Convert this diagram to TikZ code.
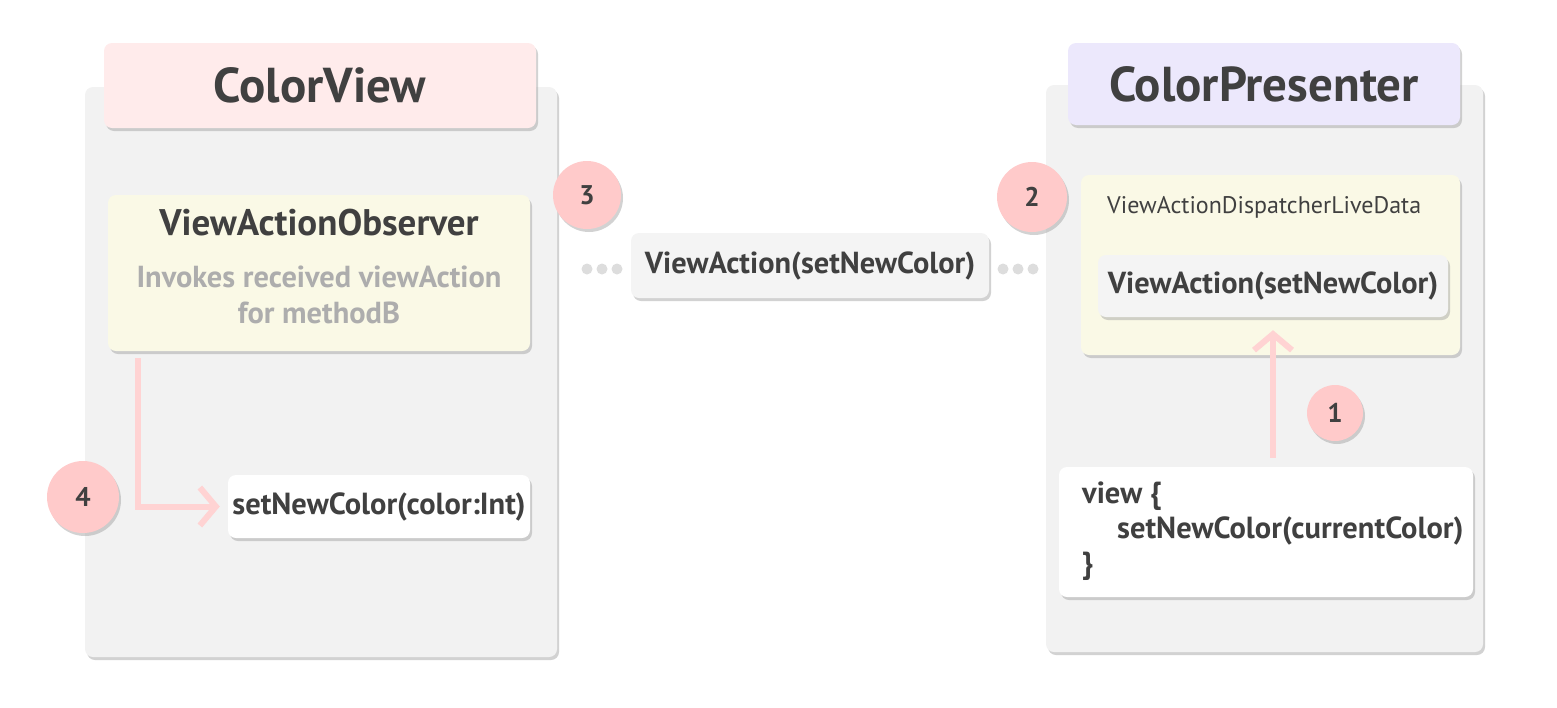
\documentclass[tikz,border=0pt]{standalone}
\usepackage{fontspec}
\setmainfont{PT Sans}
\usepackage{tikz}
\usetikzlibrary{arrows.meta,positioning,shadows}
\definecolor{inkx}{HTML}{404040}
\definecolor{mutedx}{HTML}{ADADAD}
\definecolor{panelbg}{HTML}{F2F2F2}
\definecolor{pinkbg}{HTML}{FFEBEB}
\definecolor{lilacbg}{HTML}{ECE8FC}
\definecolor{creambg}{HTML}{FAF9E6}
\definecolor{chipbg}{HTML}{F4F4F4}
\definecolor{badgex}{HTML}{FFCACA}
\definecolor{arrowx}{HTML}{FFD3D3}
\definecolor{dotx}{HTML}{DDDDDD}
\tikzset{
  shd/.style={drop shadow={shadow xshift=2pt,shadow yshift=-3pt,fill=black!35}},
  box/.style={rounded corners=8pt,inner sep=0pt,shd},
  panel/.style={box,fill=panelbg},
  head/.style={box,fill=#1,text=inkx,font=\bfseries\fontsize{49}{54}\selectfont},
  cream/.style={box,fill=creambg},
  chip/.style={box,fill=chipbg,text=inkx,font=\bfseries\fontsize{30.4}{35}\selectfont},
  card/.style={box,fill=white,text=inkx,font=\bfseries\fontsize{30.5}{35}\selectfont},
  badge/.style={circle,fill=badgex,inner sep=0pt,shd,text=inkx,font=\bfseries\fontsize{27}{30}\selectfont},
  lbl/.style={text=inkx,inner sep=0pt},
  ar/.style={-{Straight Barb[length=16pt,width=38pt]},line width=6pt,arrowx}
}
\begin{document}
\begin{tikzpicture}[x=1pt,y=-1pt]
\useasboundingbox (0,0) rectangle (1557,707);
% view side
\node[panel,minimum width=472pt,minimum height=570pt] (viewpanel) at (321,372) {};
\node[head=pinkbg,minimum width=432pt,minimum height=85pt] (viewhead) at (320,85.5) {ColorView};
\node[cream,minimum width=422pt,minimum height=156pt] (observer) at (319,273) {};
\node[lbl,font=\bfseries\fontsize{37}{40}\selectfont] (obstitle) at (319,223) {ViewActionObserver};
\node[lbl,text=mutedx,align=center,font=\bfseries\fontsize{30.4}{36}\selectfont] (obstext) at (319,295) {Invokes received viewAction\\for methodB};
\node[card,minimum width=302pt,minimum height=63pt] (setcolor) at (379,506.5) {setNewColor(color:Int)};
% presenter side
\node[panel,minimum width=437pt,minimum height=567pt] (prespanel) at (1264.5,368.5) {};
\node[head=lilacbg,minimum width=392pt,minimum height=82pt] (preshead) at (1264,84) {ColorPresenter};
\node[cream,minimum width=379pt,minimum height=180pt] (livedata) at (1270.5,265) {};
\node[lbl,anchor=west,font=\fontsize{24}{28}\selectfont] (ldtitle) at (1107,207) {ViewActionDispatcherLiveData};
\node[chip,minimum width=350pt,minimum height=62pt] (inneraction) at (1273,286) {ViewAction(setNewColor)};
\node[card,minimum width=414pt,minimum height=130pt] (code) at (1266,532) {};
\node[lbl,anchor=west,align=left,font=\bfseries\fontsize{30.5}{35}\selectfont] (codetext) at (1082,531)
  {view \{\\\hspace*{35pt}setNewColor(currentColor)\\\}};
% message between
\node[chip,minimum width=358pt,minimum height=65pt] (message) at (810,265.5) {ViewAction(setNewColor)};
\foreach \x in {587,602,617,1003,1018,1033}
  \fill[dotx] (\x,269) circle (5.5pt);
% steps
\node[badge,minimum size=56pt] (one) at (1335,413) {1};
\node[badge,minimum size=70pt] (two) at (1032,197) {2};
\node[badge,minimum size=68pt] (three) at (587,195) {3};
\node[badge,minimum size=72pt] (four) at (83,497) {4};
\coordinate (obsout) at (138,358);
\draw[ar] (obsout) |- ([xshift=-8pt]setcolor.west);
\draw[ar] ([yshift=9pt]code.north -| inneraction.south) -- ([yshift=-13pt]inneraction.south);
\end{tikzpicture}
\end{document}
